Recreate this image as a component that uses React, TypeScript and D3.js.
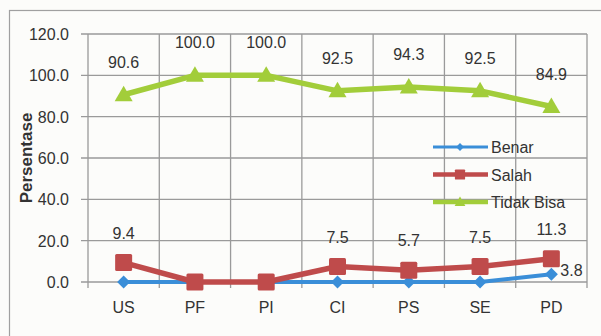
import React from "react";
import * as d3 from "d3";

const categories = ["US", "PF", "PI", "CI", "PS", "SE", "PD"];
const benar = [0, 0, 0, 0, 0, 0, 3.8];
const salah = [9.4, 0, 0, 7.5, 5.7, 7.5, 11.3];
const tidakBisa = [90.6, 100, 100, 92.5, 94.3, 92.5, 84.9];
const yTicks = [0, 20, 40, 60, 80, 100, 120];
const seriesNames = ["Benar", "Salah", "Tidak Bisa"];

const W = 601;
const H = 336;
const FONT = "'Liberation Sans', Arial, sans-serif";
const BLUE = "#3a8ed8";
const RED = "#bf4b4b";
const GREEN = "#a2cd3a";
const GRID = "#9a9a9a";

function Marker({ kind, x, y, color }: { kind: string; x: number; y: number; color: string }) {
  if (kind === "diamond") {
    const s = 6.5;
    return <path d={`M${x},${y - s}L${x + s},${y}L${x},${y + s}L${x - s},${y}Z`} fill={color} />;
  }
  if (kind === "square") {
    const s = 8.5;
    return <rect x={x - s} y={y - s} width={2 * s} height={2 * s} fill={color} rx={1.5} />;
  }
  const s = 9;
  return <path d={`M${x},${y - s}L${x + s},${y + 6.5}L${x - s},${y + 6.5}Z`} fill={color} />;
}

export default function App() {
  const x = d3.scaleBand<string>().domain(categories).range([88, 587]);
  const y = d3.scaleLinear().domain([0, 120]).range([282, 34]);
  const cx = (c: string) => (x(c) as number) + x.bandwidth() / 2;

  const line = d3
    .line<number>()
    .x((_, i) => cx(categories[i]))
    .y((d) => y(d));

  const series = [
    { name: seriesNames[0], data: benar, color: BLUE, kind: "diamond", width: 4 },
    { name: seriesNames[1], data: salah, color: RED, kind: "square", width: 5.5 },
    { name: seriesNames[2], data: tidakBisa, color: GREEN, kind: "triangle", width: 5.5 },
  ];

  const boundaries = categories.map((c) => x(c) as number).concat([x.range()[1]]);

  return (
    <svg
      width={W}
      height={H}
      style={{ position: "absolute", left: 0, top: 0, background: "#fcfcfa" }}
      fontFamily={FONT}
    >
      <rect x={0} y={0} width={W} height={H} fill="#fcfcfa" />
      <rect x={9.5} y={10.5} width={W + 20} height={H + 20} fill="none" stroke="#a0a0a0" strokeWidth={1.2} />

      {/* horizontal gridlines and y ticks */}
      {yTicks.map((t) => (
        <g key={t}>
          <line x1={81} x2={587} y1={y(t)} y2={y(t)} stroke={GRID} strokeWidth={1.3} />
          <text
            x={69}
            y={y(t) + 6}
            textAnchor="end"
            fontSize={16}
            fill="#333"
          >
            {t.toFixed(1)}
          </text>
        </g>
      ))}
      {/* vertical gridlines / category ticks */}
      {boundaries.map((b, i) => (
        <line key={i} x1={b} x2={b} y1={y(120)} y2={y(0) + 6} stroke={GRID} strokeWidth={1.3} />
      ))}

      {/* category labels */}
      {categories.map((c) => (
        <text key={c} x={cx(c)} y={313} textAnchor="middle" fontSize={16} fill="#333">
          {c}
        </text>
      ))}

      {/* y-axis title */}
      <text
        transform={`translate(32,158) rotate(-90)`}
        textAnchor="middle"
        fontSize={17}
        fontWeight="bold"
        fill="#333"
      >
        Persentase
      </text>

      {/* series lines */}
      {series.map((s) => (
        <g key={s.name}>
          <path d={line(s.data) as string} fill="none" stroke={s.color} strokeWidth={s.width} strokeLinejoin="round" />
          {s.data.map((v, i) => (
            <Marker key={i} kind={s.kind} x={cx(categories[i])} y={y(v)} color={s.color} />
          ))}
        </g>
      ))}

      {/* data labels */}
      {tidakBisa.map((v, i) => (
        <text key={"t" + i} x={cx(categories[i])} y={y(v) - 27} textAnchor="middle" fontSize={16} fill="#333">
          {v.toFixed(1)}
        </text>
      ))}
      {salah.map((v, i) =>
        v > 0 ? (
          <text key={"s" + i} x={cx(categories[i])} y={y(v) - 24} textAnchor="middle" fontSize={16} fill="#333">
            {v.toFixed(1)}
          </text>
        ) : null
      )}
      {benar.map((v, i) =>
        v > 0 ? (
          <text key={"b" + i} x={cx(categories[i]) + 9} y={y(v) + 2} textAnchor="start" fontSize={16} fill="#333">
            {v.toFixed(1)}
          </text>
        ) : null
      )}

      {/* legend */}
      {series.map((s, i) => {
        const ly = 147 + i * 27.5;
        return (
          <g key={"l" + s.name}>
            <line x1={433} x2={488} y1={ly} y2={ly} stroke={s.color} strokeWidth={s.width - 1} />
            <g transform={`translate(460,${ly}) scale(0.6)`}>
              <Marker kind={s.kind} x={0} y={0} color={s.color} />
            </g>
            <text x={491} y={ly + 6} fontSize={16} fill="#333">
              {s.name}
            </text>
          </g>
        );
      })}
    </svg>
  );
}
